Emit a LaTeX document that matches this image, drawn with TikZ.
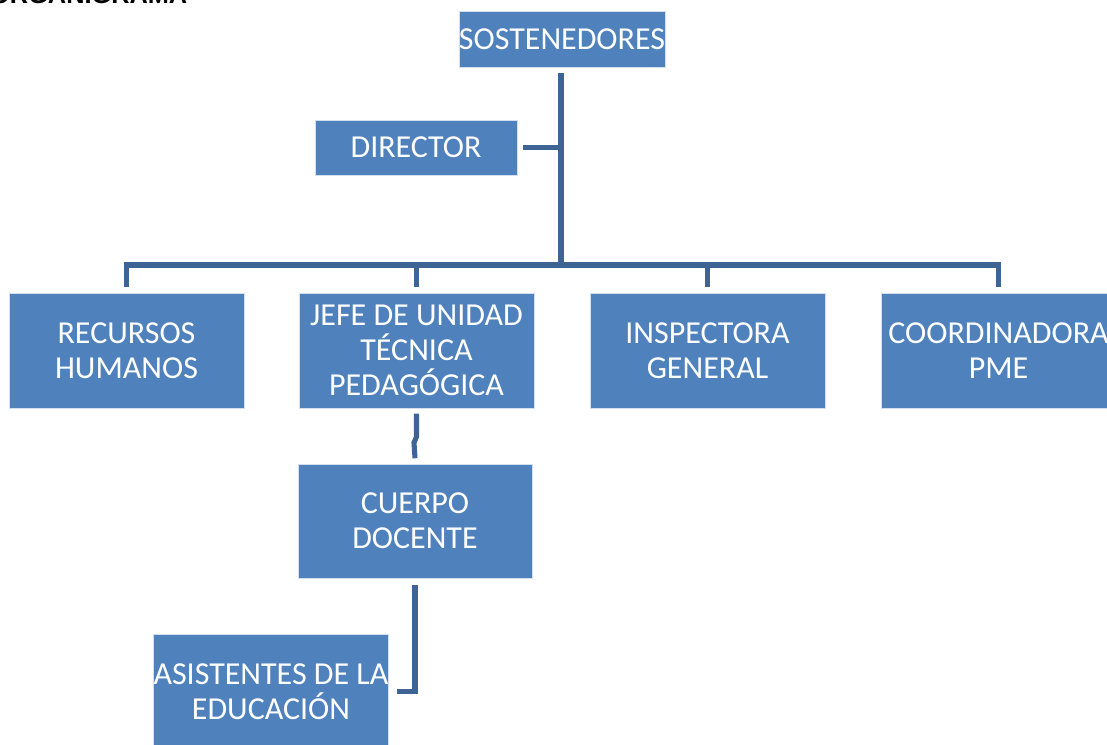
\documentclass[tikz,border=0pt]{standalone}
\usepackage{fontspec}
\setmainfont{Carlito}
\newfontfamily\headfont{Liberation Sans}
\definecolor{boxblue}{HTML}{4F81BD}
\definecolor{linkblue}{HTML}{3E6496}
\begin{document}
\begin{tikzpicture}[x=0.75pt,y=-0.75pt,
  orgbox/.style={rectangle, fill=boxblue, draw=white!75!boxblue, line width=0.6pt,
    text=white, inner sep=0pt, align=center,
    font=\fontsize{24}{26.25}\selectfont},
  link/.style={draw=linkblue, line width=3.8pt, line join=miter}]
\useasboundingbox (0,0) rectangle (1107,744);
\clip (0,0) rectangle (1107,744);

\node[font=\headfont\bfseries\fontsize{19}{19}\selectfont, anchor=base east] (title) at (192,3) {ORGANIGRAMA};

\node[orgbox, minimum width=154.5pt, minimum height=42pt] (sost) at (562,39) {SOSTENEDORES};
\node[orgbox, minimum width=151.5pt, minimum height=41.25pt] (dir) at (416,147.5) {DIRECTOR};
\node[orgbox, minimum width=176.25pt, minimum height=86.25pt] (rh) at (126.5,350.5) {RECURSOS\\HUMANOS};
\node[orgbox, minimum width=176.25pt, minimum height=86.25pt] (jefe) at (416.5,350.5) {JEFE DE UNIDAD\\TÉCNICA\\PEDAGÓGICA};
\node[orgbox, minimum width=176.25pt, minimum height=86.25pt] (insp) at (707.5,350.5) {INSPECTORA\\GENERAL};
\node[orgbox, minimum width=176.25pt, minimum height=86.25pt] (coord) at (998.5,350.5) {COORDINADORA\\PME};
\node[orgbox, minimum width=175.5pt, minimum height=85.5pt] (cuerpo) at (415,521) {CUERPO\\DOCENTE};
\node[orgbox, minimum width=175.5pt, minimum height=86.25pt] (asist) at (271,691.5) {ASISTENTES DE LA\\EDUCACIÓN};

\coordinate (trunkbot) at (561,265);

\draw[link] ([yshift=-4pt]sost.south -| trunkbot) -- (trunkbot);
\draw[link] ([xshift=4.5pt]dir.east) -- (dir.east -| trunkbot);
\draw[link] ([yshift=4pt]rh.north) -- (rh.north |- trunkbot) -- (coord.north |- trunkbot) -- ([yshift=4pt]coord.north);
\draw[link] (jefe.north |- trunkbot) -- ([yshift=4pt]jefe.north);
\draw[link] (insp.north |- trunkbot) -- ([yshift=4pt]insp.north);
\draw[link] ([yshift=-4pt]jefe.south) -- ++(0,23) -- ++(-2.5,6) -- ([yshift=4pt]cuerpo.north);
\draw[link] ([yshift=-5pt]cuerpo.south) -- (cuerpo.south |- asist.east) -- ([xshift=6pt]asist.east);
\end{tikzpicture}
\end{document}
